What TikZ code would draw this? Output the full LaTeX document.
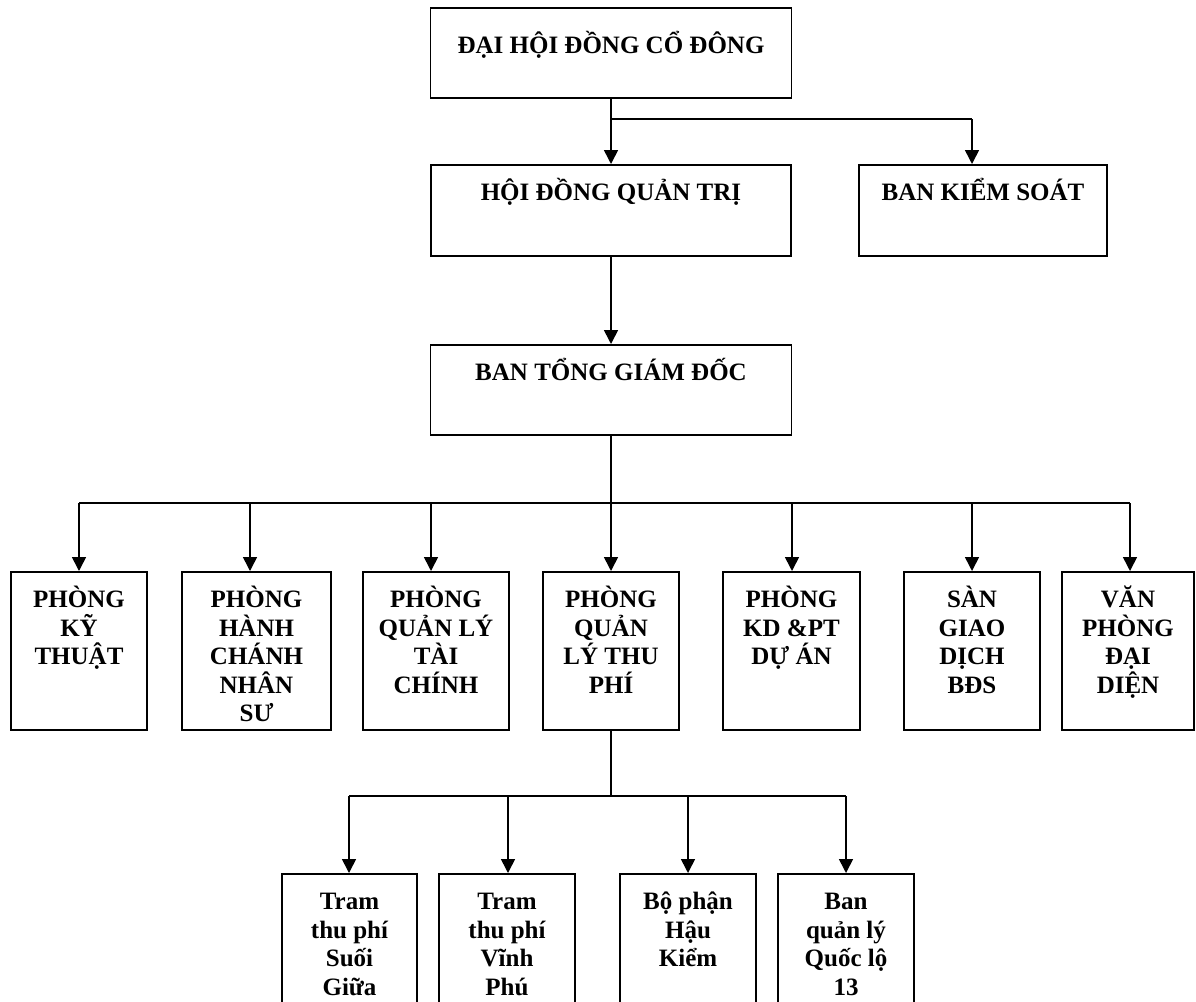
\documentclass[tikz,border=0pt]{standalone}
\usepackage{fontspec}
\setmainfont{Liberation Serif}
\usetikzlibrary{arrows.meta}
\newcommand{\bx}[4]{\parbox[t][#2][t]{#1}{\centering\rule{0pt}{#3}#4}}
\tikzset{
  box/.style={draw, line width=1.8pt, inner sep=0pt, anchor=north,
    font=\fontsize{25}{28.5}\selectfont\bfseries},
  arr/.style={line width=1.6pt, -{Triangle[length=14pt,width=14pt]}},
  ln/.style={line width=1.6pt},
}
\begin{document}
\begin{tikzpicture}[x=1pt,y=-1pt]
\useasboundingbox (0,0) rectangle (1196,1001);
\clip (0,0) rectangle (1196,1001);
\fill[white] (0,0) rectangle (1196,1001);
% top levels
\node[box] (dhcd) at (611,7)   {\bx{361pt}{90pt}{46pt}{ĐẠI HỘI ĐỒNG CỔ ĐÔNG}};
\node[box] (hdqt) at (611,164) {\bx{360pt}{91pt}{36pt}{HỘI ĐỒNG QUẢN TRỊ}};
\node[box] (bks)  at (983,164) {\bx{248pt}{91pt}{36pt}{BAN KIỂM SOÁT}};
\node[box] (btgd) at (611,344) {\bx{361pt}{90pt}{36pt}{BAN TỔNG GIÁM ĐỐC}};
% departments
\node[box] (p1) at (79,571)    {\bx{136pt}{158pt}{36pt}{PHÒNG\\KỸ\\THUẬT}};
\node[box] (p2) at (256.5,571) {\bx{149pt}{158pt}{36pt}{PHÒNG\\HÀNH\\CHÁNH\\NHÂN\\SƯ}};
\node[box] (p3) at (436,571)   {\bx{146pt}{158pt}{36pt}{PHÒNG\\QUẢN LÝ\\TÀI\\CHÍNH}};
\node[box] (p4) at (611,571)   {\bx{136pt}{158pt}{36pt}{PHÒNG\\QUẢN\\LÝ THU\\PHÍ}};
\node[box] (p5) at (791.5,571) {\bx{137pt}{158pt}{36pt}{PHÒNG\\KD \&PT\\DỰ ÁN}};
\node[box] (p6) at (972,571)   {\bx{136pt}{158pt}{36pt}{SÀN\\GIAO\\DỊCH\\BĐS}};
\node[box] (p7) at (1128,571)  {\bx{132pt}{158pt}{36pt}{VĂN\\PHÒNG\\ĐẠI\\DIỆN}};
% sub units
\node[box] (b1) at (349.5,873) {\bx{135pt}{150pt}{36pt}{Tram\\thu phí\\Suối\\Giữa}};
\node[box] (b2) at (507,873)   {\bx{136pt}{150pt}{36pt}{Tram\\thu phí\\Vĩnh\\Phú}};
\node[box] (b3) at (688,873)   {\bx{136pt}{150pt}{36pt}{Bộ phận\\Hậu\\Kiểm}};
\node[box] (b4) at (846,873)   {\bx{136pt}{150pt}{36pt}{Ban\\quản lý\\Quốc lộ\\13}};
% connectors top
\coordinate (j1) at (611,119);
\coordinate (j2) at (972,119);
\draw[arr] (dhcd.south) -- (hdqt.north);
\draw[ln] (j1) -- (j2);
\draw[arr] (j2) -- (j2 |- bks.north);
\draw[arr] (hdqt.south) -- (btgd.north);
% connectors to departments
\coordinate (a1) at (79,503);
\coordinate (a2) at (250,503);
\coordinate (a3) at (431,503);
\coordinate (a4) at (611,503);
\coordinate (a5) at (792,503);
\coordinate (a6) at (972,503);
\coordinate (a7) at (1130,503);
\draw[ln] (a1) -- (a7);
\draw[arr] (btgd.south) -- (p4.north);
\foreach \i in {1,2,3,5,6,7}{
  \draw[arr] (a\i) -- (a\i |- p\i.north);
}
% connectors to sub units
\coordinate (c1) at (349,796);
\coordinate (c2) at (508,796);
\coordinate (c3) at (688,796);
\coordinate (c4) at (846,796);
\draw[ln] (p4.south) -- (p4.south |- c1);
\draw[ln] (c1) -- (c4);
\foreach \i in {1,2,3,4}{
  \draw[arr] (c\i) -- (c\i |- b\i.north);
}
\end{tikzpicture}
\end{document}
